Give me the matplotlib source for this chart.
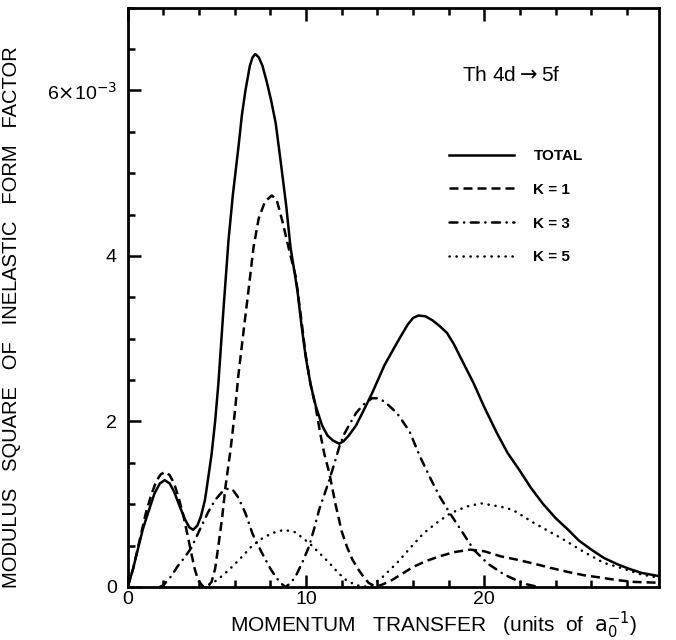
import numpy as np
import matplotlib.pyplot as plt
from matplotlib.ticker import MultipleLocator, FixedLocator, FixedFormatter

plt.rcParams['font.family'] = ['Liberation Sans', 'DejaVu Sans']

# values (units of 1e-3)
totalX = [0, 0.3, 0.56, 0.85, 1.13, 1.5, 1.8, 2.07, 2.35, 2.6, 2.9, 3.2, 3.45, 3.67, 3.9, 4.1, 4.33,
          4.5, 4.7, 4.9, 5.08, 5.35, 5.65, 5.9, 6.2, 6.4, 6.6, 6.85, 7.0, 7.15, 7.35, 7.55, 7.8, 8.05,
          8.3, 8.6, 8.89, 9.13, 9.51, 9.75, 9.98, 10.25, 10.55, 10.9, 11.2, 11.5, 11.86, 12.1, 12.4,
          12.8, 13.2, 13.7, 14.4, 15.1, 15.7, 16.0, 16.3, 16.7, 17.1, 17.5, 17.9, 18.3, 18.6, 19.0,
          19.4, 20.0, 20.7, 21.3, 22.0, 22.6, 23.3, 24.0, 24.7, 25.3, 26.0, 26.7, 27.5, 28.1, 28.8,
          29.3, 29.8]
totalY = [0, 0.22, 0.45, 0.7, 0.89, 1.13, 1.25, 1.29, 1.25, 1.15, 0.98, 0.82, 0.72, 0.69, 0.74, 0.85, 1.05,
          1.3, 1.6, 2.0, 2.45, 3.3, 4.19, 4.75, 5.3, 5.7, 6.0, 6.3, 6.4, 6.44, 6.4, 6.3, 6.1, 5.87,
          5.6, 5.1, 4.6, 4.1, 3.59, 3.15, 2.78, 2.45, 2.18, 1.95, 1.83, 1.77, 1.73, 1.76, 1.83,
          1.95, 2.12, 2.34, 2.68, 2.95, 3.17, 3.25, 3.28, 3.27, 3.22, 3.15, 3.07, 2.93, 2.8, 2.63,
          2.46, 2.17, 1.86, 1.62, 1.4, 1.2, 1.0, 0.83, 0.69, 0.56, 0.45, 0.35, 0.27, 0.22, 0.17,
          0.15, 0.13]

k1X = [0, 0.3, 0.6, 1.0, 1.3, 1.6, 1.85, 2.1, 2.35, 2.6, 2.85, 3.1, 3.35, 3.56, 3.75, 3.95, 4.24, 4.5,
       4.7, 4.9, 5.08, 5.3, 5.48, 5.76, 6.0, 6.2, 6.5, 6.78, 7.05, 7.34, 7.7, 8.08, 8.35, 8.66, 9.02,
       9.42, 9.75, 9.98, 10.25, 10.55, 10.8, 11.02, 11.3, 11.65, 12.0, 12.3, 12.6, 12.9, 13.2, 13.5,
       13.9, 14.3, 14.8, 15.4, 16.0, 16.7, 17.5, 18.3, 19.2, 20.0, 20.9, 21.8, 22.8, 23.7, 24.7,
       25.6, 26.6, 27.5, 28.4, 29.8]
k1Y = [0, 0.22, 0.5, 0.88, 1.1, 1.28, 1.36, 1.39, 1.35, 1.25, 1.08, 0.88, 0.63, 0.41, 0.22, 0.08, 0, 0.01,
       0.06, 0.22, 0.49, 0.85, 1.21, 1.65, 2.1, 2.55, 3.1, 3.6, 4.1, 4.45, 4.66, 4.73, 4.68, 4.43, 4.1,
       3.75, 3.2, 2.8, 2.45, 2.16, 1.85, 1.61, 1.38, 1.0, 0.67, 0.48, 0.33, 0.22, 0.13, 0.05,
       0, 0.03, 0.08, 0.16, 0.24, 0.31, 0.37, 0.42, 0.45, 0.43, 0.37, 0.33, 0.28, 0.23, 0.18,
       0.14, 0.11, 0.08, 0.06, 0.05]

k3X = [1.8, 2.0, 2.4, 2.8, 3.2, 3.56, 3.95, 4.5, 4.9, 5.3, 5.65, 5.9, 6.2, 6.6, 7.0, 7.5, 8.0, 8.3, 8.6,
       8.85, 9.1, 9.4, 9.8, 10.17, 10.45, 10.73, 11.0, 11.3, 11.6, 11.86, 12.1, 12.4, 12.8, 13.2, 13.7,
       14.0, 14.4, 15.1, 15.8, 16.4, 17.0, 17.5, 18.1, 18.8, 19.4, 20.2, 21.1, 21.9, 22.4, 23.0]
k3Y = [0, 0.02, 0.12, 0.25, 0.36, 0.47, 0.65, 0.9, 1.05, 1.15, 1.19, 1.17, 1.08, 0.89, 0.64, 0.42, 0.22, 0.12, 0.04,
       0, 0.04, 0.12, 0.3, 0.49, 0.7, 0.93, 1.1, 1.29, 1.5, 1.69, 1.83, 1.95, 2.1, 2.2, 2.28,
       2.28, 2.24, 2.1, 1.88, 1.57, 1.3, 1.09, 0.88, 0.65, 0.45, 0.28, 0.15, 0.07, 0.03, 0]

k5X = [4.2, 4.6, 5.0, 5.65, 6.3, 6.95, 7.5, 8.1, 8.76, 9.4, 10.17, 10.7, 11.3, 11.8, 12.26, 12.8, 13.5, 14.2,
       15.1, 15.8, 16.6, 17.3, 18.1, 19.0, 19.8, 20.9, 21.6, 22.8, 24.3, 25.6, 26.7, 27.5, 28.8, 29.8]
k5Y = [0, 0.03, 0.08, 0.2, 0.34, 0.49, 0.58, 0.65, 0.69, 0.66, 0.53, 0.42, 0.29, 0.17, 0.08, 0.02, 0, 0.1,
       0.29, 0.46, 0.65, 0.77, 0.89, 0.97, 1.01, 0.97, 0.93, 0.77, 0.59, 0.42, 0.29, 0.24, 0.15, 0.11]

fig = plt.figure(figsize=(6.76, 6.4), dpi=100)
ax = fig.add_axes([0.189, 0.083, 0.786, 0.905])

lw = 1.8
ax.plot(totalX, totalY, color='k', lw=lw, solid_joinstyle='round', label='TOTAL')
ax.plot(k1X, k1Y, color='k', lw=lw, dashes=(3.6, 2.0), label='K = 1')
ax.plot(k3X, k3Y, color='k', lw=lw, dashes=(3.2, 2.6, 0.1, 2.6), dash_capstyle='round', label='K = 3')
ax.plot(k5X, k5Y, color='k', lw=lw, dashes=(0.1, 2.7), dash_capstyle='round', label='K = 5')

ax.set_xlim(0, 29.8)
ax.set_ylim(0, 7)

# ticks
ax.xaxis.set_major_locator(FixedLocator([0, 10, 20]))
ax.xaxis.set_minor_locator(MultipleLocator(2))
ax.yaxis.set_major_locator(FixedLocator([0, 2, 4, 6]))
ax.yaxis.set_major_formatter(FixedFormatter(['0', '2', '4', '6$\\times$10$^{-3}$']))
ax.yaxis.set_minor_locator(MultipleLocator(0.5))
ax.tick_params(which='both', direction='in', top=True, right=False, width=1.8, labelsize=14)
ax.tick_params(which='major', length=9)
ax.tick_params(which='minor', length=5)
ax.tick_params(axis='y', pad=8)
ax.tick_params(axis='x', pad=3)
for s in ax.spines.values():
    s.set_linewidth(2)

ax.set_xlabel('MOMENTUM   TRANSFER   (units  of  $\\mathrm{a}_0^{-1}$)', fontsize=15)
ax.xaxis.set_label_coords(0.576, -0.040)
ax.set_ylabel('MODULUS   SQUARE   OF   INELASTIC   FORM   FACTOR', fontsize=14.5)
ax.yaxis.set_label_coords(-0.20, 0.466)

ax.text(21.5, 6.18, 'Th 4d$\\rightarrow$5f', fontsize=15, ha='center', va='center')

ax.legend(loc='upper left', bbox_to_anchor=(0.578, 0.78), frameon=False, handlelength=4.25,
          labelspacing=1.3, handletextpad=1.3, prop={'weight': 'bold', 'size': 11})

plt.savefig('out.png', dpi=100)
